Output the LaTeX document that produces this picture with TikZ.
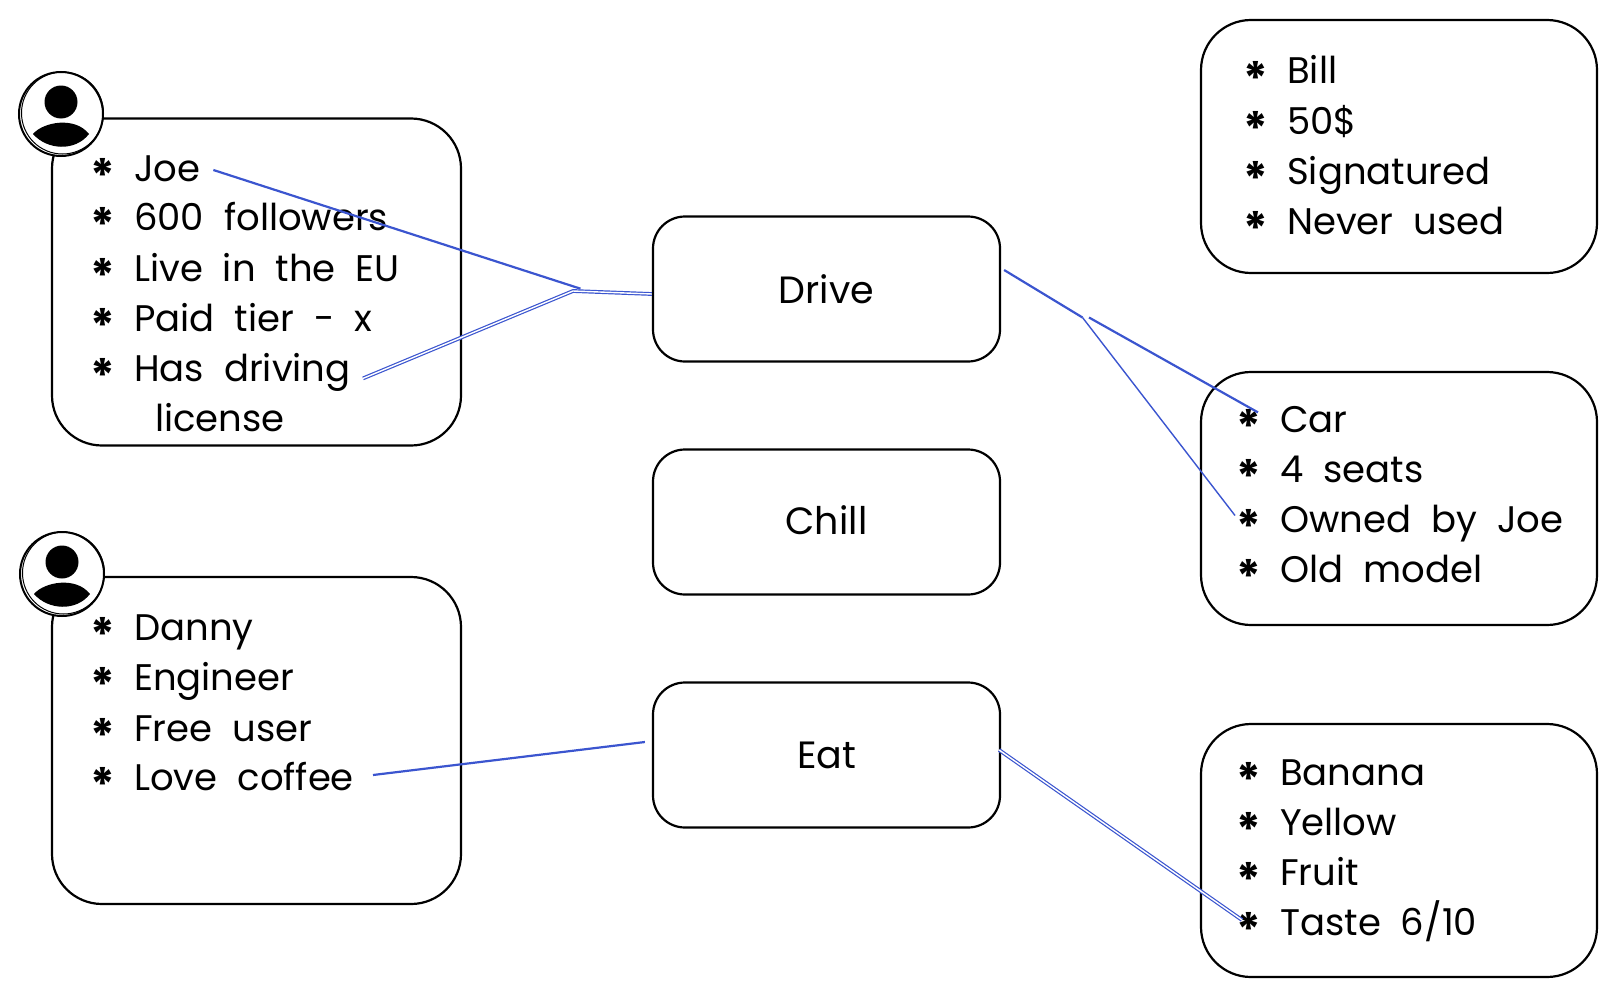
\documentclass[tikz,border=0pt]{standalone}
\usepackage{fontspec}
\setmainfont{Poppins}
\definecolor{linkblue}{HTML}{3B55CF}
\newcommand{\bul}{\makebox[44pt][l]{\raisebox{-11pt}{\fontsize{46}{46}\selectfont\bfseries *}}}
\newcommand{\listfont}{\fontsize{37}{37}\selectfont\setlength{\spaceskip}{20pt}\relax}
\tikzset{
	card/.style = {draw, line width = 2.2pt, rounded corners = 50pt, inner sep = 0pt},
	topic/.style = {draw, line width = 2.2pt, rounded corners = 32pt, inner sep = 0pt, minimum width = 347pt, minimum height = 145pt, font = \fontsize{38}{38}\selectfont},
	listline/.style = {anchor = base west, inner sep = 0pt, font = \listfont},
	link/.style = {draw = linkblue, line width = 2.2pt},
	thinlink/.style = {draw = linkblue, line width = 1.4pt},
	pairlink/.style = {draw = linkblue, line width = 1.2pt, double = white, double distance = 1.4pt},
	avatar/.style = {circle, draw, line width = 2pt, fill = white, minimum size = 84pt, inner sep = 0pt},
}
\begin{document}
\begin{tikzpicture}[x = 1pt, y = -1pt]
		\useasboundingbox (0,0) rectangle (1616,998);
		% cards
		\node [card, minimum width = 409pt, minimum height = 327pt](joecard) at (256.5,282) {};
		\node [card, minimum width = 409pt, minimum height = 327pt](dannycard) at (256.5,740.5) {};
		\node [card, minimum width = 396pt, minimum height = 253pt](billcard) at (1399,146.5) {};
		\node [card, minimum width = 396pt, minimum height = 253pt](carcard) at (1399,498.5) {};
		\node [card, minimum width = 396pt, minimum height = 253pt](bananacard) at (1399,850.5) {};
		% topics
		\node [topic](drive) at (826.5,289) {Drive};
		\node [topic](chill) at (826.5,522) {\raisebox{4pt}{Chill}};
		\node [topic](eat) at (826.5,755) {Eat};
		% joe
		\node [listline](joe) at (90,181) {\bul Joe};
		\node [listline](followers) at (90,230) {\bul 600 followers};
		\node [listline](eu) at (90,281) {\bul Live in the EU};
		\node [listline](paid) at (90,331) {\bul Paid tier - x};
		\node [listline](driving) at (90,381) {\bul Has driving};
		\node [listline](license) at (155,431) {license};
		% danny
		\node [listline](danny) at (90,640) {\bul Danny};
		\node [listline](engineer) at (90,690) {\bul Engineer};
		\node [listline](free) at (90,741) {\bul Free user};
		\node [listline](coffee) at (90,790) {\bul Love coffee};
		% bill
		\node [listline](bill) at (1243,84) {\bul Bill};
		\node [listline](money) at (1243,134) {\bul 50\$};
		\node [listline](signed) at (1243,184) {\bul Signatured};
		\node [listline](never) at (1243,234) {\bul Never used};
		% car
		\node [listline](car) at (1236,432) {\bul Car};
		\node [listline](seats) at (1236,482) {\bul 4 seats};
		\node [listline](owned) at (1236,532) {\bul Owned by Joe};
		\node [listline](model) at (1236,582) {\bul Old model};
		% banana
		\node [listline](banana) at (1236,785) {\bul Banana};
		\node [listline](yellow) at (1236,835) {\bul Yellow};
		\node [listline](fruit) at (1236,885) {\bul Fruit};
		\node [listline](taste) at (1236,935) {\bul Taste 6/10};
		% links
		\coordinate (joejoin) at (580.5,288.7);
		\coordinate (drivingjoin) at (573,291);
		\coordinate (carjoin) at (1082.5,317.5);
		\coordinate (carstart) at (1089,317.5);
		\coordinate (joestart) at (213.4,170);
		\coordinate (drivingstart) at (363,378.4);
		\coordinate (coffeestart) at (373,775);
		\coordinate (carstop) at (1258,412.4);
		\coordinate (ownedstop) at (1235,515.5);
		\coordinate (tastestop) at (1242,920);
		\draw [link] (joestart) -- (joejoin);
		\draw [pairlink] (drivingstart) -- (drivingjoin) -- ([yshift = -5pt]drive.west);
		\draw [link] ([xshift = 3pt, yshift = 19pt]drive.east) -- (carjoin);
		\draw [thinlink] (carjoin) -- (ownedstop);
		\draw [link] (carstart) -- (carstop);
		\draw [link] (coffeestart) -- ([xshift = -7pt, yshift = 13pt]eat.west);
		\draw [pairlink] ([xshift = -2pt, yshift = 5pt]eat.east) -- (tastestop);
		% avatars
		\node [avatar](joeface) at (61,114) {};
		\node [avatar](dannyface) at (62,574) {};
		\foreach \face in {joeface, dannyface} {
			\draw [line width = 1pt] ([xshift = 1.5pt, yshift = 1pt]\face.center) circle [radius = 41pt];
			\fill ([xshift = 0pt, yshift = 12pt]\face.center) circle [radius = 16.5pt];
			\fill ([xshift = -28pt, yshift = -20pt]\face.center) .. controls ([xshift = -18pt, yshift = -8pt]\face.center) and ([xshift = 14pt, yshift = -2pt]\face.center) .. ([xshift = 28pt, yshift = -20pt]\face.center) .. controls ([xshift = 14pt, yshift = -38pt]\face.center) and ([xshift = -14pt, yshift = -36pt]\face.center) .. cycle;
		}
		\end{tikzpicture}
\end{document}
